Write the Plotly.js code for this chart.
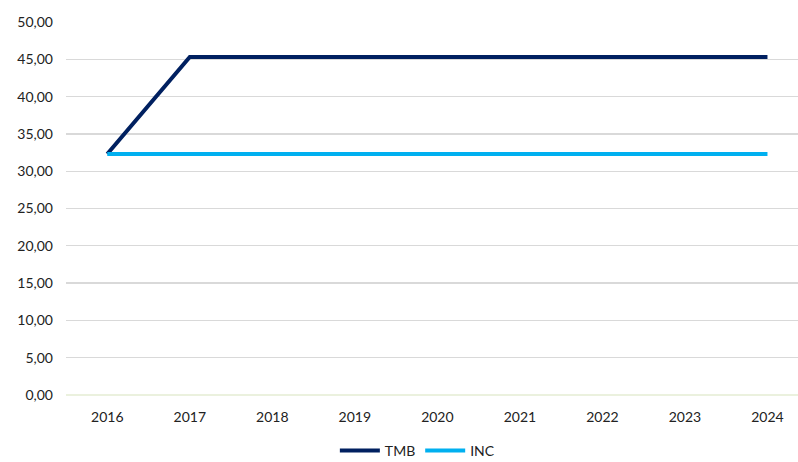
<!DOCTYPE html>
<html>
<head>
<meta charset="utf-8">
<script src="https://cdn.plot.ly/plotly-3.0.1.min.js"></script>
<style>html,body{margin:0;padding:0;background:#fff;}#chart{width:798px;height:462px;}</style>
</head>
<body>
<div id="chart"></div>
<script>
const years = ["2016","2017","2018","2019","2020","2021","2022","2023","2024"];
const tmb = [32.3, 45.3, 45.3, 45.3, 45.3, 45.3, 45.3, 45.3, 45.3];
const inc = [32.3, 32.3, 32.3, 32.3, 32.3, 32.3, 32.3, 32.3, 32.3];
const yTickVals = [0,5,10,15,20,25,30,35,40,45,50];
const yTickText = ["0,00","5,00","10,00","15,00","20,00","25,00","30,00","35,00","40,00","45,00","50,00"];

const traces = [
  {x: years, y: tmb, name: "TMB", type: "scatter", mode: "lines",
   line: {color: "#002060", width: 4}},
  {x: years, y: inc, name: "INC", type: "scatter", mode: "lines",
   line: {color: "#00B0F0", width: 4}}
];
const layout = {
  width: 798, height: 462,
  margin: {l: 66, r: 0, t: 22, b: 67, autoexpand: false},
  paper_bgcolor: "#fff", plot_bgcolor: "#fff",
  font: {family: "Lato, 'Open Sans', sans-serif", size: 14, color: "#222"},
  showlegend: true,
  legend: {orientation: "h", x: 0.48, xanchor: "center", yref: "container", y: 0.024, yanchor: "middle",
           font: {size: 14, color: "#222"}, itemwidth: 40},
  xaxis: {type: "category", range: [-0.5, 8.37], showgrid: false, zeroline: false,
          showline: false, ticks: "", ticklabelstandoff: 12, tickfont: {size: 14}, automargin: false},
  yaxis: {range: [0, 50], tickvals: yTickVals, ticktext: yTickText,
          showgrid: true, gridcolor: "#d9d9d9", gridwidth: 1.3,
          zeroline: true, zerolinecolor: "#ebf1de", zerolinewidth: 1.3,
          showline: false, ticks: "", ticklabelstandoff: 12, tickfont: {size: 14}, automargin: false}
};
Plotly.newPlot("chart", traces, layout, {displayModeBar: false, staticPlot: true});
</script>
</body>
</html>
